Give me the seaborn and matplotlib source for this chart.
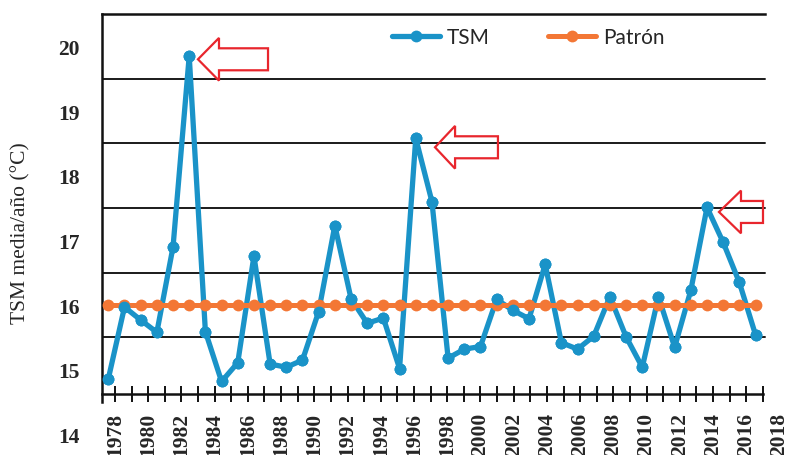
import numpy as np
import matplotlib
matplotlib.use("Agg")
import matplotlib.pyplot as plt
import seaborn as sns
from matplotlib.patches import FancyArrow
from matplotlib.ticker import FixedLocator

# Data
years = list(range(1978, 2019))
tsm = [14.86, 15.97, 15.77, 15.58, 16.90, 19.85, 15.59, 14.82, 15.11, 16.76,
       15.09, 15.04, 15.15, 15.90, 17.23, 16.10, 15.72, 15.80, 15.02, 18.58,
       17.60, 15.18, 15.32, 15.36, 16.09, 15.92, 15.79, 16.63, 15.42, 15.32,
       15.52, 16.13, 15.51, 15.04, 16.13, 15.35, 16.23, 17.51, 16.97, 16.35, 15.54]
patron = [16.0] * len(years)

tick_years = list(range(1978, 2018))
label_years = list(range(1978, 2019, 2))
y_labels = [14, 15, 16, 17, 18, 19, 20]
grid_levels = [15.5, 16.5, 17.5, 18.5, 19.5]

# arrows pointing at the peaks: (year, gap, drop, length, head length)
peak_arrows = [(1983, 0.54, 0.05, 4.33, 1.30),
               (1997, 1.19, 0.14, 3.89, 1.24),
               (2015, 0.74, 0.07, 2.72, 1.36)]

BLUE = "#1a93c8"
ORANGE = "#f37735"
RED = "#e8262d"
SERIF = "Liberation Serif"

sns.set_style("white")

fig = plt.figure(figsize=(7.85, 4.56), dpi=100)
ax = fig.add_axes([102 / 785, 14 / 456, 683 / 785, 427 / 456])

# ==================================================
# Series
# ==================================================
sns.lineplot(x=years, y=tsm, ax=ax, color=BLUE, linewidth=3.8,
             marker="o", markersize=8.5, markeredgewidth=0,
             label="TSM", zorder=2)
sns.lineplot(x=years, y=patron, ax=ax, color=ORANGE, linewidth=3.6,
             marker="o", markersize=8.5, markeredgewidth=0,
             label="Patrón", zorder=3)
# blue markers sit over the orange line
sns.scatterplot(x=years, y=tsm, ax=ax, color=BLUE, s=72,
                linewidth=0, zorder=4)

ax.set_xlim(1977.61, 2019.82)
ax.set_ylim(13.9, 20.5)

for lev in grid_levels:
    ax.axhline(lev, xmin=0, xmax=663 / 683, color="#1a1a1a", lw=1.4, zorder=1)

# Arrows
for yr, gap, drop, length, head in peak_arrows:
    val = tsm[years.index(yr)]
    tip_x = yr + gap
    tip_y = val - drop
    arrow = FancyArrow(tip_x + length, tip_y, -length, 0,
                       width=0.34, head_width=0.66, head_length=head,
                       length_includes_head=True, fill=False,
                       edgecolor=RED, linewidth=1.6, zorder=5)
    ax.add_patch(arrow)

# ==================================================
# Y axis
# ==================================================
ax.spines["right"].set_visible(False)
ax.spines["bottom"].set_visible(False)
ax.spines["left"].set_bounds(14.5, 20.5)
ax.spines["left"].set_linewidth(1.8)
ax.spines["left"].set_color("#111111")
ax.spines["top"].set_bounds(1977.61, 2018.59)
ax.spines["top"].set_linewidth(1.8)
ax.spines["top"].set_color("#111111")

ax.set_xticks([])
ax.set_yticks(y_labels)
ax.set_yticklabels([str(v) for v in y_labels], fontsize=15.5,
                   fontweight="bold", family=SERIF)
ax.yaxis.set_minor_locator(FixedLocator(np.arange(14.5, 21, 1)))
ax.tick_params(axis="y", which="major", length=0, pad=16)
ax.tick_params(axis="y", which="minor", direction="inout", length=9.5,
               width=1.4, color="#111111")

ax.set_ylabel("TSM media/año (°C)", fontsize=15.5, family=SERIF)
ax.yaxis.set_label_coords(-0.105, 0.49)

# ==================================================
# X axis (year ticks on a twin axis)
# ==================================================
ax2 = ax.twiny()
ax2.set_xlim(1977.22, 2018.33)
ax2.xaxis.set_ticks_position("bottom")
ax2.xaxis.set_label_position("bottom")
for side in ["top", "left", "right"]:
    ax2.spines[side].set_visible(False)
ax2.spines["bottom"].set_position(("data", 14.63))
ax2.spines["bottom"].set_bounds(1977.22, 2017)
ax2.spines["bottom"].set_linewidth(1.8)
ax2.spines["bottom"].set_color("#111111")

ax2.xaxis.remove_overlapping_locs = False
ax2.set_xticks(label_years)
ax2.set_xticklabels([str(y) for y in label_years], rotation=90,
                    fontsize=15.5, fontweight="bold", family=SERIF)
ax2.xaxis.set_minor_locator(FixedLocator(tick_years))
ax2.tick_params(axis="x", which="major", length=0, pad=13)
ax2.tick_params(axis="x", which="minor", direction="inout", length=11,
                width=1.4, color="#111111")

# ==================================================
# Legend
# ==================================================
handles, labels = ax.get_legend_handles_labels()
order = [labels.index("TSM"), labels.index("Patrón")]
ax.legend([handles[i] for i in order], [labels[i] for i in order],
          loc="center", bbox_to_anchor=(0.624, 0.946), ncol=2,
          frameon=False, prop={"family": "Lato", "size": 15},
          handlelength=2.3, handletextpad=0.35, columnspacing=2.8)

fig.savefig("out.png", dpi=100)
